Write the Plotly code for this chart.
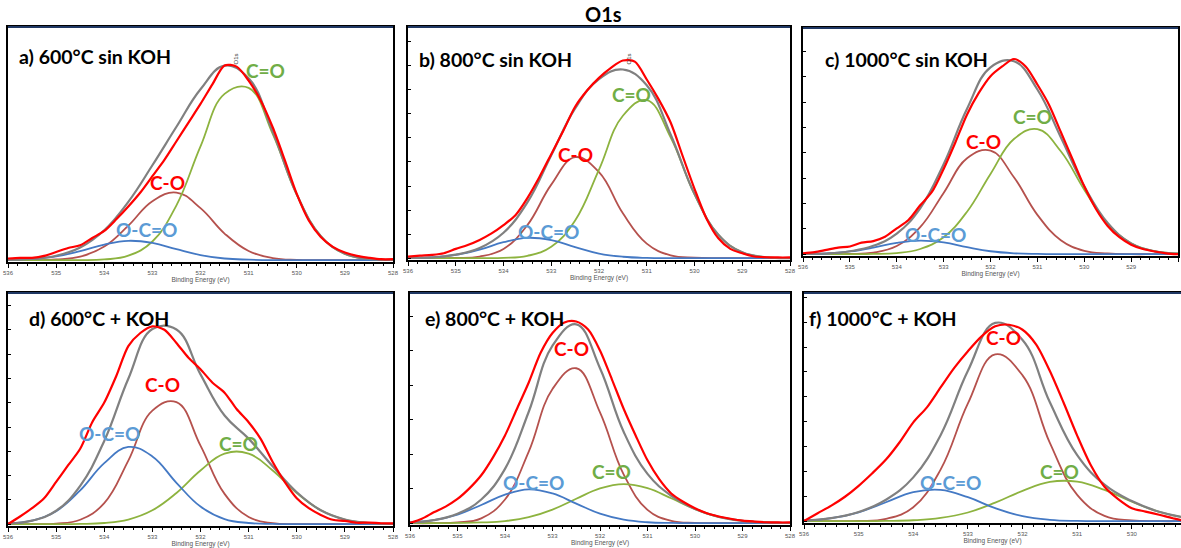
import plotly.graph_objects as go

W, H = 1181, 548

# ---------------- data (binding energy in eV, intensity in arbitrary units) ----------------
energy = [536.0, 535.5, 535.0, 534.5, 534.0, 533.5, 533.0, 532.5, 532.0, 531.5, 531.0,
          530.5, 530.0, 529.5, 529.0, 528.5, 528.0]
energy_fine = [536.0, 535.75, 535.5, 535.25, 535.0, 534.75, 534.5, 534.25, 534.0, 533.75,
               533.5, 533.25, 533.0, 532.75, 532.5, 532.25, 532.0, 531.75, 531.5, 531.25,
               531.0, 530.75, 530.5, 530.25, 530.0, 529.75, 529.5, 529.25, 529.0, 528.75,
               528.5, 528.25, 528.0]

# a) 600°C sin KOH
a_measured = [0.7, 1.0, 1.0, 1.8, 3.5, 5.2, 6.4, 9.5, 12.5, 17.5, 23.0, 29.0, 36.0, 43.0, 51.0,
              59.0, 67.0, 75.5, 83.5, 83.0, 77.0, 68.5, 57.0, 43.0, 28.4, 17.0, 9.9, 5.7, 3.3,
              1.8, 1.0, 0.4, 0.4]
a_envelope = [0.1, 0.5, 1.9, 5.4, 12.8, 25.0, 40.7, 57.2, 73.3, 83.4, 78.0, 55.1, 28.2, 10.3, 2.7, 0.5, 0.1]
a_c_eq_o = [0.0, 0.0, 0.0, 0.0, 0.3, 1.9, 8.0, 23.5, 48.8, 71.3, 73.9, 54.2, 28.1, 10.3, 2.7, 0.5, 0.0]
a_c_o = [0.0, 0.0, 0.3, 1.5, 5.8, 14.8, 25.3, 29.0, 22.3, 11.4, 3.9, 0.9, 0.1, 0.0, 0.0, 0.0, 0.0]
a_o_c_eq_o = [0.1, 0.5, 1.6, 3.9, 6.7, 8.3, 7.4, 4.7, 2.2, 0.7, 0.2, 0.0, 0.0, 0.0, 0.0, 0.0, 0.0]

# b) 800°C sin KOH
b_measured = [0.7, 1.1, 1.4, 2.1, 4.0, 5.7, 7.9, 10.7, 14.3, 18.6, 26.0, 35.0, 45.0, 55.0, 65.5,
              72.5, 78.0, 82.3, 85.5, 85.0, 77.3, 68.7, 58.7, 44.3, 30.0, 17.2, 8.6, 4.0, 2.1,
              0.7, 0.4, 0.3, 0.3]
b_envelope = [0.1, 0.3, 1.5, 4.4, 11.0, 24.1, 44.5, 64.8, 77.5, 81.6, 74.8, 53.5, 27.8, 10.1, 2.5, 0.4, 0.0]
b_c_eq_o = [0.0, 0.0, 0.0, 0.0, 0.1, 1.0, 4.9, 16.3, 38.3, 61.6, 68.4, 52.3, 27.6, 10.1, 2.5, 0.4, 0.0]
b_c_o = [0.0, 0.0, 0.1, 0.7, 4.0, 14.3, 31.8, 43.7, 37.2, 19.4, 6.3, 1.2, 0.2, 0.0, 0.0, 0.0, 0.0]
b_o_c_eq_o = [0.1, 0.3, 1.4, 3.7, 6.9, 8.8, 7.8, 4.8, 2.0, 0.6, 0.1, 0.0, 0.0, 0.0, 0.0, 0.0, 0.0]

# c) 1000°C sin KOH
c_measured = [0.4, 0.9, 1.9, 2.9, 3.4, 5.1, 5.8, 7.7, 11.4, 15.1, 21.6, 27.5, 37.7, 49.4, 61.8,
              71.3, 78.7, 83.0, 86.3, 83.0, 75.0, 66.0, 54.0, 42.0, 30.0, 20.0, 12.5, 7.5, 4.2,
              2.3, 1.2, 0.4, 0.0]
c_envelope = [0.1, 0.3, 1.3, 3.7, 9.1, 20.3, 39.8, 64.3, 82.6, 85.3, 72.8, 51.7, 30.0, 13.8, 4.8, 1.3, 0.3]
c_c_eq_o = [0.0, 0.0, 0.0, 0.1, 0.5, 2.3, 7.5, 18.8, 35.5, 50.9, 55.3, 45.5, 28.5, 13.5, 4.8, 1.3, 0.3]
c_c_o = [0.0, 0.0, 0.1, 0.7, 3.6, 12.0, 27.1, 42.4, 45.8, 34.0, 17.4, 6.2, 1.5, 0.3, 0.0, 0.0, 0.0]
c_o_c_eq_o = [0.1, 0.3, 1.2, 2.9, 5.0, 6.0, 5.2, 3.1, 1.3, 0.4, 0.1, 0.0, 0.0, 0.0, 0.0, 0.0, 0.0]

# d) 600°C + KOH
d_measured = [0.0, 3.3, 6.9, 11.2, 18.3, 25.5, 32.6, 44.1, 52.6, 64.1, 77.0, 82.7, 85.6, 84.1,
              78.4, 72.0, 67.0, 61.2, 56.9, 49.8, 44.1, 36.9, 26.9, 18.3, 11.2, 6.9, 4.0, 1.9,
              1.4, 0.6, 0.7, 0.4, 0.3]
d_envelope = [0.3, 1.5, 5.8, 16.6, 36.0, 62.9, 84.4, 84.2, 64.8, 47.0, 37.0, 25.0, 13.8, 6.0, 2.0, 0.5, 0.1]
d_c_eq_o = [0.0, 0.0, 0.0, 0.1, 0.5, 2.0, 6.0, 13.5, 23.2, 30.5, 30.5, 23.2, 13.5, 6.0, 2.0, 0.5, 0.1]
d_c_o = [0.0, 0.0, 0.2, 1.9, 9.1, 27.5, 49.1, 52.8, 34.0, 13.1, 3.1, 0.4, 0.0, 0.0, 0.0, 0.0, 0.0]
d_o_c_eq_o = [0.3, 1.5, 5.6, 14.6, 26.4, 33.4, 29.3, 17.9, 7.6, 2.2, 0.5, 0.1, 0.0, 0.0, 0.0, 0.0, 0.0]

# e) 800°C + KOH
e_measured = [0.1, 1.9, 4.7, 7.2, 10.5, 15.1, 20.8, 28.7, 38.1, 49.6, 61.1, 74.0, 82.6, 87.2,
              87.6, 84.1, 75.0, 62.5, 49.6, 38.1, 27.3, 19.0, 12.9, 9.3, 6.5, 4.3, 2.9, 1.9,
              1.1, 0.7, 0.4, 0.3, 0.3]
e_envelope = [0.3, 1.3, 4.1, 10.3, 23.6, 48.4, 77.1, 86.4, 67.3, 39.6, 21.4, 11.9, 6.2, 2.7, 1.0, 0.3, 0.1]
e_c_eq_o = [0.0, 0.0, 0.1, 0.3, 0.9, 2.6, 5.9, 10.6, 15.1, 17.0, 15.2, 10.8, 6.1, 2.7, 1.0, 0.3, 0.1]
e_c_o = [0.0, 0.0, 0.3, 2.1, 10.3, 31.1, 58.3, 67.3, 48.1, 21.1, 5.8, 1.0, 0.1, 0.0, 0.0, 0.0, 0.0]
e_o_c_eq_o = [0.3, 1.3, 3.7, 7.9, 12.4, 14.7, 12.9, 8.5, 4.1, 1.5, 0.4, 0.1, 0.0, 0.0, 0.0, 0.0, 0.0]

# f) 1000°C + KOH
f_measured = [0.1, 3.5, 6.8, 10.7, 15.5, 21.0, 27.0, 34.6, 43.3, 49.9, 58.6, 67.2, 74.5, 81.0,
              85.4, 86.1, 83.9, 77.4, 65.8, 52.0, 37.5, 24.5, 15.1, 9.7, 5.7, 4.2, 2.8, 1.3,
              0.1, 0.1, 0.1, 0.1, 0.1]
f_envelope = [0.3, 1.3, 4.0, 9.4, 19.2, 37.7, 65.9, 86.9, 79.4, 52.1, 28.9, 16.0, 8.8, 4.1, 1.5, 0.5, 0.1]
f_c_eq_o = [0.0, 0.0, 0.0, 0.1, 0.4, 1.4, 3.8, 8.1, 13.3, 17.2, 17.3, 13.7, 8.5, 4.1, 1.5, 0.5, 0.1]
f_c_o = [0.0, 0.0, 0.1, 1.0, 6.1, 22.6, 51.6, 73.1, 63.9, 34.3, 11.5, 2.3, 0.3, 0.0, 0.0, 0.0, 0.0]
f_o_c_eq_o = [0.3, 1.3, 3.9, 8.3, 12.7, 13.7, 10.5, 5.7, 2.2, 0.6, 0.1, 0.0, 0.0, 0.0, 0.0, 0.0, 0.0]

panel_titles = ["a) 600°C sin KOH", "b) 800°C sin KOH", "c) 1000°C sin KOH",
                "d) 600°C + KOH", "e) 800°C + KOH", "f) 1000°C + KOH"]
component_names = ["C-O", "C=O", "O-C=O"]
x_tick_values = [536, 535, 534, 533, 532, 531, 530, 529, 528]
x_tick_labels = ["536", "535", "534", "533", "532", "531", "530", "529", "528"]
axis_title = "Binding Energy (eV)"
main_title = "O1s"

panels = [
    (a_measured, a_envelope, a_c_o, a_c_eq_o, a_o_c_eq_o),
    (b_measured, b_envelope, b_c_o, b_c_eq_o, b_o_c_eq_o),
    (c_measured, c_envelope, c_c_o, c_c_eq_o, c_o_c_eq_o),
    (d_measured, d_envelope, d_c_o, d_c_eq_o, d_o_c_eq_o),
    (e_measured, e_envelope, e_c_o, e_c_eq_o, e_o_c_eq_o),
    (f_measured, f_envelope, f_c_o, f_c_eq_o, f_o_c_eq_o),
]

# ---------------- layout / style ----------------
PANEL_BOXES = [(8, 27, 393, 262), (408, 27, 790, 260), (803, 28, 1178, 256),
               (8, 293, 393, 526), (410, 293, 790, 525), (804, 293, 1181, 523)]
X_RIGHT = [528, 528, 528, 528, 528, 529.1]
Y_DTICK = [None, 10.4, 11.2, 10.5, 15.0, 10.9]
TITLE_POS = [(17, 57), (417, 59), (823, 59), (27, 318), (423, 318), (807, 318)]
LABEL_POS = {
    "C=O": [(265, 71), (631, 94), (1032, 117), (238, 443), (611, 472), (1059, 472)],
    "C-O": [(167, 182), (575, 154), (983, 141), (162, 384), (571, 348), (1003, 337)],
    "O-C=O": [(146, 229), (548, 231), (935, 234), (109, 433), (533, 482), (950, 482)],
}
LABEL_COLORS = {"C=O": "#70AD47", "C-O": "#FF0000", "O-C=O": "#5B9BD5"}
LINE_COLORS = {"C-O": "#B5514D", "C=O": "#8DB33F", "O-C=O": "#4479C4",
               "envelope": "#808080", "measured": "#FF0000"}
FONT = "Lato, 'Open Sans', Arial, sans-serif"


def px(x, y):
    return x / W, 1 - y / H


fig = go.Figure()

for i, (meas, env, c_o, c_eq_o, o_c_eq_o) in enumerate(panels):
    k = "" if i == 0 else str(i + 1)
    xa, ya = "x" + k, "y" + k
    comps = {"C-O": c_o, "C=O": c_eq_o, "O-C=O": o_c_eq_o}
    for name in ["C-O", "C=O", "O-C=O"]:
        fig.add_trace(go.Scatter(x=energy, y=comps[name], mode="lines", name=name,
                                 line=dict(color=LINE_COLORS[name], width=1.8, shape="spline",
                                           smoothing=1.2),
                                 xaxis=xa, yaxis=ya, showlegend=False))
    fig.add_trace(go.Scatter(x=energy, y=env, mode="lines", name="envelope",
                             line=dict(color=LINE_COLORS["envelope"], width=2.2, shape="spline",
                                       smoothing=1.2),
                             xaxis=xa, yaxis=ya, showlegend=False))
    fig.add_trace(go.Scatter(x=energy_fine, y=meas, mode="lines", name="measured",
                             line=dict(color=LINE_COLORS["measured"], width=2.2, shape="spline",
                                       smoothing=0.8),
                             xaxis=xa, yaxis=ya, showlegend=False))

    x0, y0, x1, y1 = PANEL_BOXES[i]
    dx0, dy1 = px(x0, y0)
    dx1, dy0 = px(x1, y1)
    dx1 = min(dx1, 1.0)
    fig.layout["xaxis" + k] = dict(
        domain=[dx0, dx1], anchor=ya, range=[536, X_RIGHT[i]], automargin=False,
        showline=True, mirror=True, linecolor="black", linewidth=1.5,
        showgrid=False, zeroline=False,
        ticks="outside", ticklen=4, tickwidth=1, tickcolor="black",
        tickvals=x_tick_values, ticktext=x_tick_labels,
        tickfont=dict(size=6, color="#555555", family="Arial"),
        minor=dict(dtick=0.2, tick0=536, ticks="outside", ticklen=2.5, tickcolor="black", tickwidth=1),
        title=dict(text=axis_title, font=dict(size=6.5, color="#555555", family="Arial"), standoff=0),
    )
    ydict = dict(
        domain=[dy0, dy1], anchor=xa, range=[-0.8, 100], automargin=False,
        showline=True, mirror=True, linecolor="black", linewidth=1.5,
        showgrid=False, zeroline=False, showticklabels=False,
    )
    if Y_DTICK[i]:
        ydict.update(ticks="inside", ticklen=3, tickcolor="black", tick0=0, dtick=Y_DTICK[i])
    fig.layout["yaxis" + k] = ydict

    # dark top border of each panel frame
    fig.add_shape(type="line", xref="paper", yref="paper", x0=dx0, x1=dx1, y0=dy1, y1=dy1,
                  line=dict(color="#1F3864", width=2))

    tx, ty = px(*TITLE_POS[i])
    fig.add_annotation(x=tx, y=ty, xref="paper", yref="paper", text="<b>" + panel_titles[i] + "</b>",
                       showarrow=False, xanchor="left", yanchor="middle",
                       font=dict(size=19.5, color="black", family=FONT))
    for name in component_names:
        lx, ly = px(*LABEL_POS[name][i])
        fig.add_annotation(x=lx, y=ly, xref="paper", yref="paper", text="<b>" + name + "</b>",
                           showarrow=False, xanchor="center", yanchor="middle",
                           font=dict(size=19, color=LABEL_COLORS[name], family=FONT))

# tiny peak labels from the instrument software
for (ox, oy) in [(230, 52), (628, 52)]:
    lx, ly = px(ox, oy)
    fig.add_annotation(x=lx, y=ly, xref="paper", yref="paper", text="O1s", textangle=-90,
                       showarrow=False, font=dict(size=6, color="#333333", family="Arial"))

mx, my = px(603, 14)
fig.add_annotation(x=mx, y=my, xref="paper", yref="paper", text="<b>" + main_title + "</b>",
                   showarrow=False, xanchor="center", yanchor="middle",
                   font=dict(size=20, color="black", family=FONT))

fig.update_layout(width=W, height=H, margin=dict(l=0, r=0, t=0, b=0, autoexpand=False),
                  paper_bgcolor="white", plot_bgcolor="white", showlegend=False)

fig.write_html("out.html", config={"displayModeBar": False},
               post_script="document.body.style.margin='0px';document.body.style.overflow='hidden';")
